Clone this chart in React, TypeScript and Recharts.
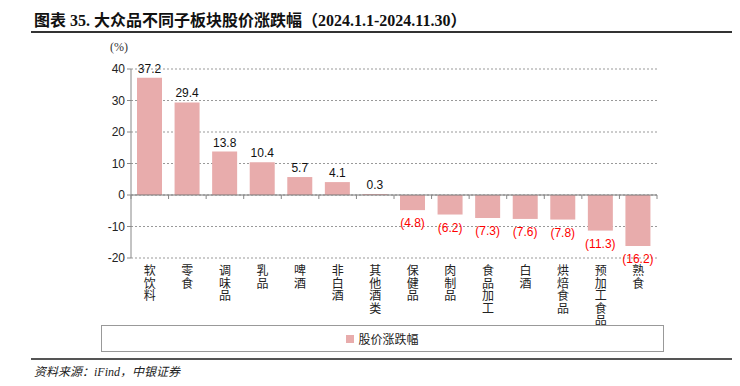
import { BarChart, Bar, XAxis, YAxis, CartesianGrid, ReferenceLine, LabelList } from 'recharts'

const categories = ['软饮料', '零食', '调味品', '乳品', '啤酒', '非白酒', '其他酒类', '保健品', '肉制品', '食品加工', '白酒', '烘焙食品', '预加工食品', '熟食']
const changes = [37.2, 29.4, 13.8, 10.4, 5.7, 4.1, 0.3, -4.8, -6.2, -7.3, -7.6, -7.8, -11.3, -16.2]
const yTicks = [-20, -10, 0, 10, 20, 30, 40]

const data = categories.map((name, i) => ({ name, value: changes[i] }))

const W = 740
const H = 386
const PLOT_LEFT = 131
const PLOT_RIGHT = 657
const PLOT_TOP = 69
const PLOT_BOTTOM = 258
const BAND = (PLOT_RIGHT - PLOT_LEFT) / categories.length
const zeroY = PLOT_TOP + ((40 - 0) / 60) * (PLOT_BOTTOM - PLOT_TOP)

const BAR_COLOR = '#E8ACAC'
const serif = '"Liberation Serif", "DejaVu Serif", "Noto Sans CJK SC", serif'
const sans = '"Liberation Sans", Arial, sans-serif'

// category names are written top-to-bottom, one character per line
function VerticalTick(props: any) {
  const { x, y, payload, index } = props
  const chars = String(payload.value).split('')
  return (
    <g>
      {index === 0 && (
        <line x1={x - BAND / 2} x2={x - BAND / 2} y1={zeroY} y2={zeroY + 4} stroke="#888" />
      )}
      <line x1={x + BAND / 2} x2={x + BAND / 2} y1={zeroY} y2={zeroY + 4} stroke="#888" />
      <text
        x={x}
        y={y + 15}
        textAnchor="middle"
        fontSize={12}
        fill="#222"
        fontFamily='"Noto Sans CJK SC", sans-serif'
      >
        {chars.map((c, i) => (
          <tspan key={i} x={x} dy={i === 0 ? 0 : 12.6}>
            {c}
          </tspan>
        ))}
      </text>
    </g>
  )
}

function ValueLabel(props: any) {
  const { x, y, width, height, value } = props
  const neg = value < 0
  const cx = x + width / 2
  const top = Math.min(y, y + height)
  const low = Math.max(y, y + height)
  return (
    <text
      x={cx}
      y={neg ? low + 17 : top - 5}
      textAnchor="middle"
      fontSize={12}
      fontFamily={sans}
      fill={neg ? '#FF0000' : '#111'}
    >
      {neg ? `(${Math.abs(value).toFixed(1)})` : value.toFixed(1)}
    </text>
  )
}

export default function App() {
  return (
    <div style={{ position: 'absolute', left: 0, top: 0, width: W, height: H, background: '#fff' }}>
      <div
        style={{
          position: 'absolute',
          left: 34,
          top: 7,
          fontFamily: serif,
          fontWeight: 'bold',
          fontSize: 16,
          color: '#111',
          whiteSpace: 'nowrap',
        }}
      >
        图表 35. 大众品不同子板块股价涨跌幅（2024.1.1-2024.11.30）
      </div>
      <div style={{ position: 'absolute', left: 31, top: 31, width: 701, height: 2, background: '#333' }} />
      <div
        style={{ position: 'absolute', left: 110, top: 40, fontFamily: serif, fontSize: 12, color: '#333' }}
      >
        (%)
      </div>

      <BarChart
        width={W}
        height={H}
        data={data}
        margin={{ top: PLOT_TOP, right: W - PLOT_RIGHT, bottom: H - PLOT_BOTTOM - 70, left: PLOT_LEFT - 40 }}
        style={{ position: 'absolute', left: 0, top: 0 }}
      >
        <CartesianGrid vertical={false} stroke="#999" strokeDasharray="2 2" />
        <YAxis
          width={40}
          domain={[-20, 40]}
          ticks={yTicks}
          interval={0}
          axisLine={{ stroke: '#888' }}
          tickLine={{ stroke: '#888' }}
          tickSize={4}
          tick={{ fontSize: 12, fill: '#222', fontFamily: sans }}
        />
        <XAxis
          dataKey="name"
          height={70}
          interval={0}
          axisLine={false}
          tickLine={false}
          tickSize={0}
          tick={<VerticalTick />}
        />
        <ReferenceLine y={0} stroke="#777" strokeWidth={1} />
        <Bar dataKey="value" fill={BAR_COLOR} barSize={25} isAnimationActive={false}>
          <LabelList dataKey="value" content={<ValueLabel />} />
        </Bar>
      </BarChart>

      <div
        style={{
          position: 'absolute',
          left: 101,
          top: 325,
          width: 561,
          height: 25,
          border: '1px solid #999',
          display: 'flex',
          alignItems: 'center',
          justifyContent: 'center',
          fontFamily: '"Noto Sans CJK SC", sans-serif',
          fontSize: 12,
          color: '#222',
        }}
      >
        <span style={{ display: 'inline-block', width: 8, height: 8, background: BAR_COLOR, marginRight: 4 }} />
        股价涨跌幅
      </div>
      <div style={{ position: 'absolute', left: 31, top: 358, width: 701, height: 2, background: '#555' }} />
      <div
        style={{
          position: 'absolute',
          left: 34,
          top: 362,
          fontFamily: serif,
          fontStyle: 'italic',
          fontSize: 12,
          color: '#222',
        }}
      >
        资料来源：iFind，中银证券
      </div>
    </div>
  )
}
